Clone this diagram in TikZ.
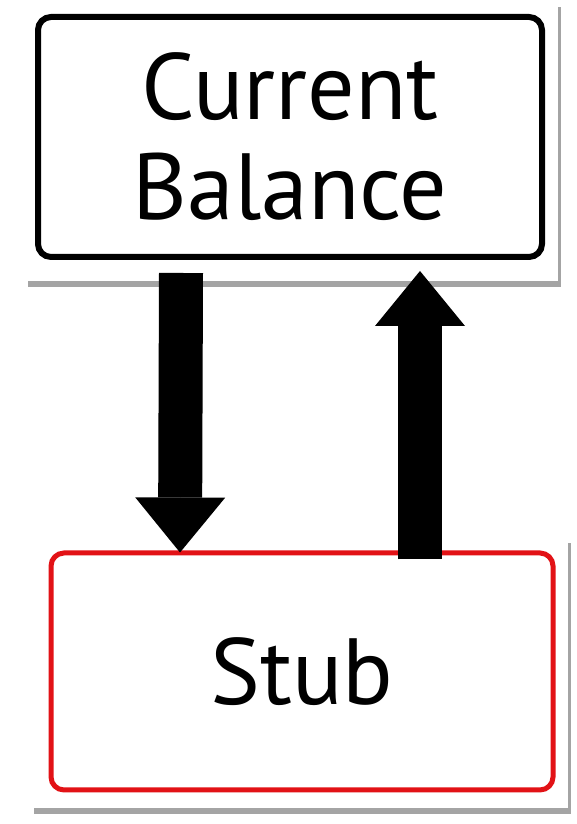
\documentclass[tikz,border=0pt]{standalone}
\usepackage{fontspec}
\setmainfont{PT Sans}
\usetikzlibrary{arrows.meta, positioning, calc, backgrounds, shadows}
\definecolor{StubRed}{RGB}{226, 18, 22}
\definecolor{CardShade}{RGB}{90, 90, 90}

\tikzset{
  notebox/.style={draw=black, line width=6pt, rounded corners=13pt, fill=white,
    minimum width=504pt, minimum height=240pt, inner sep=0pt, align=center,
    font=\fontsize{94}{100}\selectfont},
  stubbox/.style={notebox, draw=StubRed, line width=5pt,
    minimum width=502pt, minimum height=237pt},
  card/.style={fill=white, drop shadow={shadow xshift=3pt, shadow yshift=-6pt,
    fill=CardShade, opacity=0.55}},
  fatarrow/.style={line width=44pt, -{Triangle[width=90pt, length=55pt, line width=0pt]}},
}

\begin{document}
\begin{tikzpicture}[x=1pt,y=1pt]
  \path[use as bounding box] (0,0) rectangle (576,824);

  % Boxes
  \node[notebox] (balance) at (290,687) {Current\\Balance};
  \node[stubbox] (stub) at (302,152.5) {Stub};

  % Paper cards behind the boxes
  \begin{scope}[on background layer]
    \fill[white] (0,0) rectangle (576,824);
    \path[card] ($(balance.south west)+(-10,-21)$) rectangle ($(balance.north east)+(13,13)$);
    \path[card] ($(stub.south west)+(-18,-16)$) rectangle ($(stub.north east)+(12,13)$);
  \end{scope}

  % Arrows
  \draw[fatarrow] ($(balance.south)+(-109,-13)$) -- ($(stub.north)+(-122,-2)$);
  \draw[fatarrow] ($(stub.north)+(118,-9)$) -- ($(balance.south)+(130,-11)$);
\end{tikzpicture}
\end{document}
